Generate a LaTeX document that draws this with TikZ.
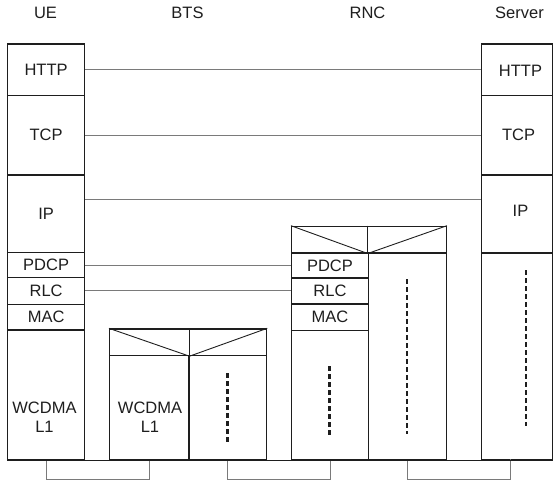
\documentclass[tikz,border=0pt]{standalone}
\usepackage{fontspec}
\setmainfont{Liberation Sans}
\usetikzlibrary{calc}
\definecolor{ink}{HTML}{1E1E1E}
\definecolor{peergray}{HTML}{7A7A7A}
\newcommand\lblfont{\fontsize{16.5}{19.5}\selectfont}
\newcommand\mklayer[6]{\node[layer,minimum width={#4pt-#2pt},minimum height={#5pt-#3pt}] (#1) at (#2,#3) {#6};}
\begin{document}
\begin{tikzpicture}[x=1pt,y=-1pt,
  layer/.style={draw=ink,line width=1.2pt,rectangle,inner sep=0pt,anchor=north west,text=ink,font=\lblfont},
  txt/.style={inner sep=0pt,text=ink,font=\lblfont},
  peer/.style={draw=peergray,line width=0.9pt},
  thin/.style={draw=ink,line width=0.9pt},
  dotline/.style={draw=ink,line width=2.6pt,dash pattern=on 5pt off 3pt}]
\useasboundingbox (0,0) rectangle (553,480);

% header labels
\node[txt] (hUE) at (45.5,12.5) {UE};
\node[txt] (hBTS) at (187.5,12.5) {BTS};
\node[txt] (hRNC) at (367.5,12.5) {RNC};
\node[txt] (hSV) at (519.5,12.5) {Server};

% UE stack
\mklayer{ueHTTP}{7}{43.3}{84}{95}{HTTP}
\mklayer{ueTCP}{7}{95}{84}{174.3}{TCP}
\mklayer{ueIP}{7}{174.3}{84}{252}{IP}
\mklayer{uePDCP}{7}{252}{84}{277}{PDCP}
\mklayer{ueRLC}{7}{277}{84}{303.5}{RLC}
\mklayer{ueMAC}{7}{303.5}{84}{329.3}{MAC}
\mklayer{ueL1}{7}{329.3}{84}{459}{}
\node[txt,align=center] (ueL1t) at (44.5,417) {WCDMA\\L1};

% BTS
\mklayer{btsHead}{109}{328.3}{266}{355}{}
\mklayer{btsL}{109}{355}{188.3}{459}{}
\mklayer{btsR}{188.3}{355}{266}{459}{}
\draw[thin] (btsHead.north west) -- (btsHead.south -| btsL.east) -- (btsHead.north east);
\draw[ink,line width=1.2pt] (btsHead.north -| btsL.east) -- (btsHead.south -| btsL.east);
\node[txt,align=center] (btsL1t) at (150,417) {WCDMA\\L1};
\draw[dotline] (227.5,373) -- (227.5,442.5);

% RNC
\mklayer{rncHead}{291}{225.7}{445.7}{252.3}{}
\mklayer{rncPDCP}{291}{252.3}{367.7}{277.3}{PDCP}
\mklayer{rncRLC}{291}{277.3}{367.7}{303.3}{RLC}
\mklayer{rncMAC}{291}{303.3}{367.7}{330}{MAC}
\mklayer{rncL}{291}{330}{367.7}{459}{}
\mklayer{rncR}{367.7}{252.3}{445.7}{459}{}
\draw[thin] (rncHead.north west) -- (rncHead.south -| rncR.west) -- (rncHead.north east);
\draw[ink,line width=1.2pt] (rncHead.north -| rncR.west) -- (rncHead.south -| rncR.west);
\draw[dotline] (329.5,366) -- (329.5,437);
\draw[dotline] (406.8,279) -- (406.8,433.5);

% Server
\mklayer{svHTTP}{481}{43.3}{552.4}{95}{}
\mklayer{svTCP}{481}{95}{552.4}{174.3}{}
\mklayer{svIP}{481}{174.3}{552.4}{252.3}{}
\mklayer{svLow}{481}{252.3}{552.4}{459}{}
\node[txt] (svHTTPt) at (520.5,70.5) {HTTP};
\node[txt] (svTCPt) at (518.5,135) {TCP};
\node[txt] (svIPt) at (520.5,211) {IP};
\draw[dotline] (526,270) -- (526,426);

% peer connections
\draw[peer] (ueHTTP.east) -- (svHTTP.west);
\draw[peer] (ueTCP.east) -- (svTCP.west);
\draw[peer] ($(ueIP.north east)!0.32!(ueIP.south east)$) coordinate (ipL) -- (ipL -| svIP.west);
\draw[peer] (uePDCP.east) -- (uePDCP.east -| rncPDCP.west);
\draw[peer] (ueRLC.east) -- (ueRLC.east -| rncRLC.west);

% physical links
\coordinate (svC) at (510,459);
\draw[peer] (ueL1.south) -- ++(0,19.3) -| (btsL.south);
\draw[peer] (btsR.south) -- ++(0,19.3) -| (rncL.south);
\draw[peer] (rncR.south) -- ++(0,19.3) -| (svC);

% baseline
\draw[ink,line width=1.2pt] (ueL1.south west) -- (svLow.south east);
\end{tikzpicture}
\end{document}
